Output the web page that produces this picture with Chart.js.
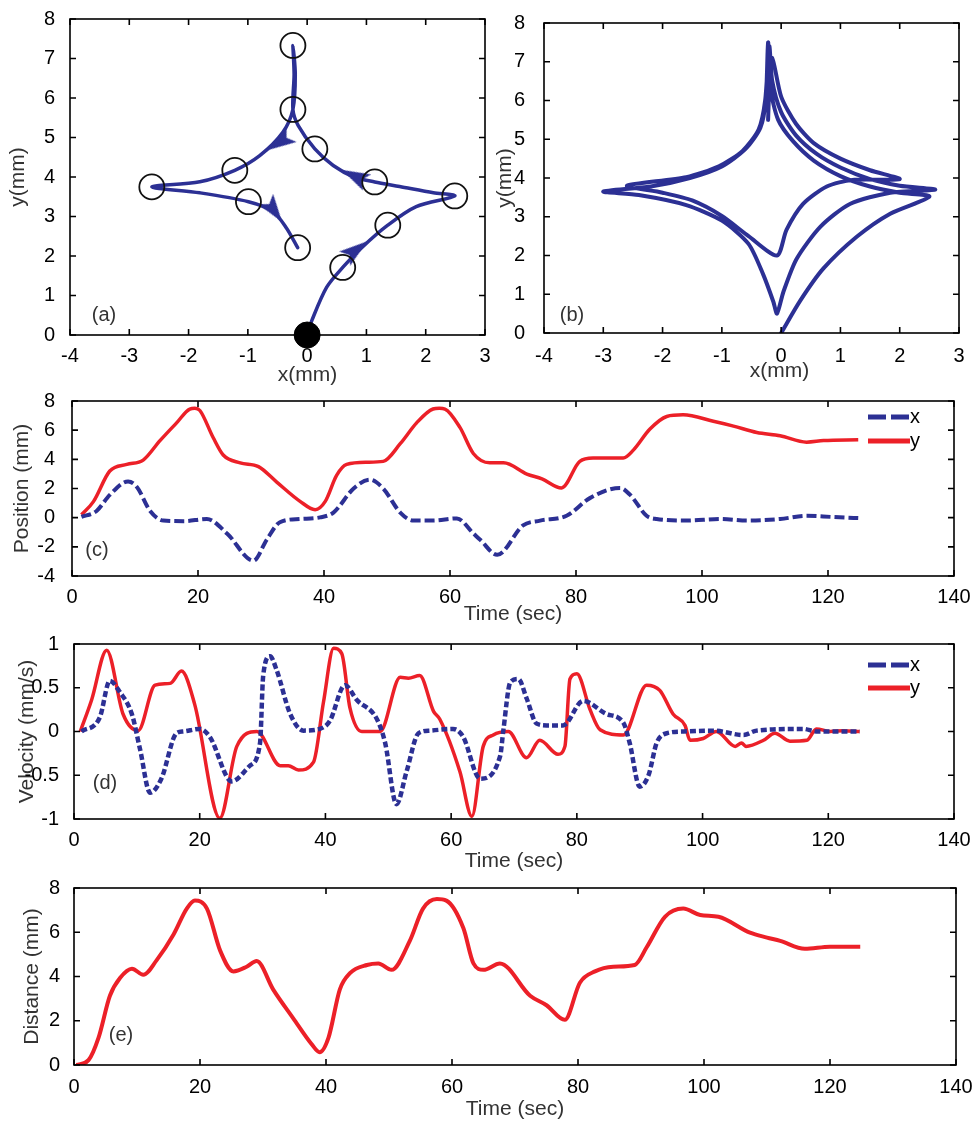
<!DOCTYPE html>
<html>
<head>
<meta charset="utf-8">
<title>Trajectory, position, velocity and distance</title>
<script src="https://cdn.jsdelivr.net/npm/chart.js@4.4.1/dist/chart.umd.min.js"></script>
<style>
    html, body { margin: 0; padding: 0; background: #fff; }
    #fig { position: relative; width: 977px; height: 1121px; overflow: hidden; }
    #fig canvas { position: absolute; }
</style>
</head>
<body>
<div id="fig">
    <canvas id="chartA"></canvas>
    <canvas id="chartB"></canvas>
    <canvas id="chartC"></canvas>
    <canvas id="chartD"></canvas>
    <canvas id="chartE"></canvas>
</div>
<script>
// Tick labels
const mmTicksX = [-4, -3, -2, -1, 0, 1, 2, 3];
const mmTicksY = [0, 1, 2, 3, 4, 5, 6, 7, 8];
const timeTicks = [0, 20, 40, 60, 80, 100, 120, 140];
const posTicks = [-4, -2, 0, 2, 4, 6, 8];
const velTicks = [-1, -0.5, 0, 0.5, 1];
const distTicks = [0, 2, 4, 6, 8];

// (a) schematic path (mm)
const pathAX = [0, 0.08, 0.33, 0.6, 0.92, 1.36, 1.84, 2.49, 2.13, 1.56, 1.14, 0.79, 0.44, 0.13, -0.15, -0.24, -0.22, -0.24, -0.2, -0.24, -0.41, -0.8, -1.22, -1.81, -2.62, -1.81, -0.99, -0.58, -0.35, -0.16];
const pathAY = [0, 0.37, 1.21, 1.71, 2.21, 2.78, 3.25, 3.52, 3.6, 3.76, 3.875, 4.0, 4.29, 4.71, 5.3, 5.71, 6.6, 7.33, 6.6, 5.71, 5.13, 4.54, 4.17, 3.88, 3.75, 3.6, 3.375, 3.13, 2.71, 2.21];
const circleAX = [0.6, 1.36, 2.49, 1.14, 0.13, -0.24, -0.24, -1.22, -2.62, -0.99, -0.16];
const circleAY = [1.71, 2.78, 3.52, 3.875, 4.71, 5.71, 7.33, 4.17, 3.75, 3.375, 2.21];
const startAX = [0];
const startAY = [0];
const arrowAX = [0.82, 0.8, -0.46, -0.56];
const arrowAY = [2.15, 4.02, 4.88, 3.15];
const arrowAimX = [1.36, 0.44, -0.8, -0.35];
const arrowAimY = [2.78, 4.29, 4.54, 2.71];

// (b) measured trajectory (mm)
const trajBX = [0, 0.32, 0.71, 1.28, 1.84, 2.5,
    2.0, 1.5, 1.0, 0.55, 0.2, -0.05, -0.18, -0.22,
    -0.26, -0.35, -0.6, -1.0, -1.54, -2.2, -3.0,
    -2.4, -1.6, -1.0, -0.55, -0.3, -0.13, -0.07,
    0.04, 0.26, 0.66, 1.16, 1.84, 2.6,
    2.0, 1.5, 1.0, 0.6, 0.25, 0.0, -0.15, -0.2,
    -0.27, -0.38, -0.65, -1.05, -1.6, -2.6,
    -2.0, -1.5, -1.0, -0.55, -0.07,
    0.09, 0.37, 0.77, 1.2, 2.0,
    1.5, 1.0, 0.55, 0.25, 0.0, -0.15,
    -0.2, -0.22];
const trajBY = [0, 0.83, 1.66, 2.49, 3.08, 3.52,
    3.62, 3.78, 4.05, 4.45, 4.95, 5.5, 6.3, 7.5,
    6.0, 5.3, 4.75, 4.3, 4.0, 3.78, 3.65,
    3.56, 3.3, 2.9, 2.3, 1.5, 0.8, 0.5,
    1.07, 1.91, 2.74, 3.33, 3.62, 3.7,
    3.8, 3.97, 4.27, 4.62, 5.1, 5.7, 6.5, 7.4,
    6.0, 5.25, 4.7, 4.3, 4.02, 3.8,
    3.62, 3.42, 3.02, 2.5, 2.0,
    2.66, 3.33, 3.78, 3.95, 3.97,
    4.2, 4.5, 4.9, 5.4, 6.1, 7.1,
    6.3, 5.5];

// (c) position vs time
const posXTime = [1.5, 3.9, 6.0, 8.9, 10.3, 12.4, 14.5, 17.7, 21.4, 24.6, 28.8, 30.9, 33.0, 36.2, 39.4, 41.5, 44.7, 47.3, 49.4, 52.1, 54.2, 57.3, 61.1, 63.7, 64.8, 67.5, 71.6, 74.3, 78.5, 82.2, 87.0, 88.6, 91.2, 92.8, 97.6, 102.9, 107.1, 112.4, 116.6, 120.6, 124.8];
const posXVal = [0.05, 0.46, 1.56, 2.48, 2.1, 0.46, -0.2, -0.24, -0.09, -1.08, -2.95, -1.52, -0.31, -0.09, 0.02, 0.35, 2.0, 2.6, 2.0, 0.35, -0.2, -0.2, -0.05, -1.08, -1.52, -2.55, -0.53, -0.2, 0.13, 1.34, 2.04, 1.56, 0.13, -0.09, -0.2, -0.09, -0.2, -0.09, 0.13, 0.05, -0.03];
const posYTime = [1.5, 3.4, 6.0, 8.7, 11.3, 14.0, 16.6, 18.7, 19.5, 20.3, 22.4, 24.0, 26.7, 29.6, 32.5, 36.2, 38.6, 40.2, 42.0, 43.6, 46.8, 49.4, 52.1, 54.7, 57.3, 58.3, 59.2, 61.6, 63.7, 66.3, 68.5, 72.2, 74.6, 77.7, 80.6, 82.7, 87.5, 89.1, 91.7, 94.4, 97.0, 101.8, 105.0, 108.7, 112.4, 116.6, 119.3, 124.8];
const posYVal = [0.2, 1.1, 3.2, 3.65, 3.95, 5.3, 6.5, 7.45, 7.5, 7.35, 5.5, 4.3, 3.76, 3.5, 2.44, 1.12, 0.55, 1.12, 2.9, 3.65, 3.8, 3.86, 5.07, 6.5, 7.45, 7.5, 7.45, 6.17, 4.4, 3.76, 3.76, 2.99, 2.66, 2.04, 3.86, 4.09, 4.09, 4.63, 6.06, 6.94, 7.05, 6.61, 6.28, 5.84, 5.62, 5.18, 5.29, 5.34];

// (d) velocity vs time
const velXTime = [1.2, 4.1, 5.7, 7.3, 9.2, 10.5, 12.1, 13.9, 16.3, 17.4, 20.0, 21.6, 25.1, 28.0, 29.6, 30.1, 31.2, 32.2, 34.4, 36.5, 39.1, 40.7, 43.1, 45.0, 48.2, 49.5, 51.3, 52.9, 54.8, 56.6, 60.3, 61.9, 64.6, 67.8, 68.3, 69.4, 70.7, 72.0, 73.6, 75.2, 77.8, 81.0, 84.7, 87.4, 88.4, 90.0, 91.4, 92.7, 94.3, 97.0, 101.7, 106.5, 108.6, 116.0, 118.1, 125];
const velXVal = [0, 0.16, 0.58, 0.45, 0.2, -0.2, -0.7, -0.54, -0.02, 0, 0.03, -0.06, -0.57, -0.39, -0.13, 0.64, 0.86, 0.71, 0.2, 0.01, 0.03, 0.12, 0.53, 0.36, 0.14, -0.13, -0.83, -0.46, -0.02, 0.01, 0.03, -0.06, -0.54, -0.28, 0.01, 0.56, 0.6, 0.38, 0.09, 0.07, 0.07, 0.35, 0.2, 0.1, -0.13, -0.63, -0.5, -0.13, -0.02, 0, 0.01, -0.04, 0.01, 0.03, 0, 0];
const velYTime = [1, 2.8, 5.2, 7.8, 10.2, 12.9, 15.3, 17.1, 19.2, 23.2, 25.9, 29.1, 32.8, 34.1, 35.7, 38.1, 39.7, 41.3, 42.6, 43.9, 45.8, 48.7, 51.9, 53.2, 55.0, 57.2, 58.2, 61.4, 63.3, 65.1, 66.7, 69.1, 72.0, 74.1, 77.0, 78.1, 78.9, 80.0, 82.1, 83.7, 87.4, 91.1, 93.2, 95.3, 97.2, 98.0, 100.1, 102.2, 105.2, 106.2, 106.9, 109.7, 111.5, 113.9, 116.6, 118.1, 120.3, 122.4, 125];
const velYVal = [0, 0.36, 0.93, 0.2, 0.01, 0.53, 0.55, 0.69, 0.31, -0.99, -0.17, 0, -0.39, -0.39, -0.44, -0.35, 0.34, 0.95, 0.89, 0.27, 0, 0, 0.62, 0.61, 0.64, 0.23, 0.14, -0.46, -0.97, -0.17, -0.04, 0, -0.3, -0.1, -0.26, -0.17, 0.6, 0.66, 0.25, 0.02, -0.04, 0.53, 0.47, 0.2, 0.07, -0.1, -0.08, 0, -0.17, -0.13, -0.17, -0.1, -0.02, -0.11, -0.1, 0.03, 0, 0.01, 0];

// (e) distance vs time
const distTime = [0.4, 2.3, 3.9, 5.7, 7.3, 9.2, 11.0, 13.1, 15.8, 17.9, 19.2, 21.1, 23.2, 25.3, 27.4, 29.0, 31.6, 34.8, 37.7, 39.0, 40.4, 42.2, 43.8, 46.5, 48.3, 50.4, 53.3, 55.4, 57.6, 59.1, 61.8, 63.4, 65.0, 67.6, 72.4, 75.0, 77.9, 80.3, 82.7, 85.6, 89.0, 90.9, 93.8, 96.7, 99.4, 102.3, 107.3, 110.0, 112.1, 116.0, 120.0, 124.8];
const distVal = [0, 0.22, 1.24, 3.13, 3.93, 4.35, 4.08, 4.73, 5.9, 7.07, 7.43, 7.07, 5.17, 4.23, 4.44, 4.7, 3.42, 2.11, 0.95, 0.58, 1.24, 3.42, 4.15, 4.52, 4.59, 4.3, 5.61, 7.07, 7.5, 7.43, 6.19, 4.59, 4.3, 4.59, 3.13, 2.7, 2.04, 3.72, 4.23, 4.44, 4.52, 5.32, 6.7, 7.07, 6.78, 6.7, 5.98, 5.76, 5.61, 5.25, 5.35, 5.35];

const FONT = '"Liberation Sans", Arial, sans-serif';
const RED = "rgb(236, 32, 40)";
const BLUE = "rgb(44, 48, 148)";

Chart.defaults.font.family = FONT;
Chart.defaults.font.size = 20;
Chart.defaults.color = "#000";

const points = (xs, ys) => xs.map((x, i) => ({ x: x, y: ys[i] }));

// Blue dart used as arrow head in (a), pointing up before rotation
function makeArrowHead() {
    const c = document.createElement("canvas");
    c.width = 18;
    c.height = 28;
    const g = c.getContext("2d");
    g.fillStyle = BLUE;
    g.beginPath();
    g.moveTo(9, 0);
    g.lineTo(18, 28);
    g.lineTo(9, 22);
    g.lineTo(0, 28);
    g.closePath();
    g.fill();
    return c;
}

// Box frame with inward ticks, x title, panel tag and line legend
const framePlugin = {
    id: "frame",
    afterDatasetsDraw(chart, args, opts) {
        const { ctx, chartArea: a, scales } = chart;
        ctx.save();
        ctx.strokeStyle = "#000";
        ctx.lineWidth = 1.6;
        ctx.beginPath();
        scales.x.ticks.forEach(t => {
            const px = scales.x.getPixelForValue(t.value);
            ctx.moveTo(px, a.bottom);
            ctx.lineTo(px, a.bottom - 6);
            ctx.moveTo(px, a.top);
            ctx.lineTo(px, a.top + 6);
        });
        scales.y.ticks.forEach(t => {
            const py = scales.y.getPixelForValue(t.value);
            ctx.moveTo(a.left, py);
            ctx.lineTo(a.left + 6, py);
            ctx.moveTo(a.right, py);
            ctx.lineTo(a.right - 6, py);
        });
        ctx.stroke();
        ctx.strokeRect(a.left, a.top, a.width, a.height);

        ctx.textAlign = "center";
        ctx.textBaseline = "middle";
        ctx.font = `21px ${FONT}`;
        ctx.fillStyle = "#333";
        ctx.fillText(opts.xTitle, (a.left + a.right) / 2 + opts.xTitleDx, a.bottom + opts.xTitleDy);

        ctx.font = `20px ${FONT}`;
        ctx.fillStyle = "#333";
        ctx.fillText(opts.tag, a.left + opts.tagDx, a.bottom - opts.tagDy);

        if (opts.legendRows) {
            chart.data.datasets.forEach((ds, i) => {
                const y = a.top + opts.legendRows[i];
                ctx.setLineDash(ds.legendDash || []);
                ctx.strokeStyle = ds.borderColor;
                ctx.lineWidth = 5;
                ctx.beginPath();
                ctx.moveTo(a.right - 86, y);
                ctx.lineTo(a.right - 44, y);
                ctx.stroke();
                ctx.setLineDash([]);
                ctx.font = `20px ${FONT}`;
                ctx.fillStyle = "#000";
                ctx.textAlign = "left";
                ctx.fillText(ds.label, a.right - 44, y);
            });
        }
        ctx.restore();
    }
};

function axisOptions(ticks, title, fitSize, tickPad, titlePad, isX) {
    return {
        type: "linear",
        min: ticks[0],
        max: ticks[ticks.length - 1],
        afterBuildTicks: s => { s.ticks = ticks.map(v => ({ value: v })); },
        afterFit: s => { if (isX) s.height = fitSize; else s.width = fitSize; },
        grid: { display: false },
        border: { display: false },
        ticks: {
            padding: tickPad, color: "#000", font: { size: 20 },
            maxRotation: 0, autoSkip: false,
            callback: v => String(v)
        },
        title: {
            display: !isX,
            text: title,
            color: "#333",
            font: { size: 21 },
            padding: { top: titlePad, bottom: 0 }
        }
    };
}

// box = canvas rectangle, area = plot rectangle, both in page pixels
function buildPanel(id, box, area, p) {
    const canvas = document.getElementById(id);
    canvas.width = box.r - box.l;
    canvas.height = box.b - box.t;
    canvas.style.left = box.l + "px";
    canvas.style.top = box.t + "px";
    p.frame.xTitle = p.xTitle;
    return new Chart(canvas, {
        type: "scatter",
        data: { datasets: p.datasets },
        options: {
            responsive: false,
            animation: false,
            events: [],
            layout: { padding: { left: 0, bottom: 0, top: area.t - box.t, right: box.r - area.r } },
            plugins: { legend: { display: false }, tooltip: { enabled: false }, frame: p.frame },
            scales: {
                x: axisOptions(p.xTicks, p.xTitle, box.b - area.b, p.xTickPad, 0, true),
                y: axisOptions(p.yTicks, p.yTitle, area.l - box.l, p.yTickPad, p.yTitlePad, false)
            }
        },
        plugins: [framePlugin]
    });
}

function timeLine(label, xs, ys, color, width, dash, legendDash) {
    return {
        label: label,
        data: points(xs, ys),
        showLine: true,
        borderColor: color,
        borderWidth: width,
        borderDash: dash,
        legendDash: legendDash,
        cubicInterpolationMode: "monotone",
        pointRadius: 0
    };
}

const arrowHead = makeArrowHead();

// (a)
buildPanel("chartA", { l: 0, t: 0, r: 500, b: 395 }, { l: 70, t: 15, r: 485, b: 335 }, {
    xTicks: mmTicksX, yTicks: mmTicksY, xTitle: "x(mm)", yTitle: "y(mm)",
    xTickPad: 1, yTickPad: 7, yTitlePad: 6,
    frame: { tag: "(a)", tagDx: 34, tagDy: 20, xTitleDx: 30, xTitleDy: 40 },
    datasets: [
        { data: points(startAX, startAY), pointRadius: 13, pointBackgroundColor: "#000", pointBorderColor: "#000", clip: false },
        { data: points(circleAX, circleAY), pointRadius: 12.5, pointBackgroundColor: "rgba(0,0,0,0)", pointBorderColor: "#111", pointBorderWidth: 1.8 },
        {
            data: points(arrowAX, arrowAY),
            pointStyle: arrowHead,
            pointRadius: 10,
            pointRotation: c => {
                const i = c.dataIndex;
                if (i === undefined) return 0;
                const sx = c.chart.scales.x, sy = c.chart.scales.y;
                const dx = sx.getPixelForValue(arrowAimX[i]) - sx.getPixelForValue(arrowAX[i]);
                const dy = sy.getPixelForValue(arrowAimY[i]) - sy.getPixelForValue(arrowAY[i]);
                return Math.atan2(dx, -dy) * 180 / Math.PI;
            }
        },
        {
            data: points(pathAX, pathAY), showLine: true, borderColor: BLUE, borderWidth: 3.5,
            tension: 0.3, borderJoinStyle: "round", borderCapStyle: "round", pointRadius: 0
        }
    ]
});

// (b)
buildPanel("chartB", { l: 490, t: 0, r: 977, b: 395 }, { l: 544, t: 13, r: 959, b: 333 }, {
    xTicks: mmTicksX, yTicks: mmTicksY, xTitle: "x(mm)", yTitle: "y(mm)",
    xTickPad: 3, yTickPad: 11, yTitlePad: 2.4,
    frame: { tag: "(b)", tagDx: 28, tagDy: 18, xTitleDx: 28, xTitleDy: 38.5 },
    datasets: [{
        data: points(trajBX, trajBY), showLine: true, borderColor: BLUE, borderWidth: 4,
        tension: 0.25, borderJoinStyle: "round", borderCapStyle: "round", pointRadius: 0
    }]
});

// (c)
buildPanel("chartC", { l: 0, t: 380, r: 977, b: 630 }, { l: 72, t: 394, r: 954, b: 576 }, {
    xTicks: timeTicks, yTicks: posTicks, xTitle: "Time (sec)", yTitle: "Position (mm)",
    xTickPad: 1, yTickPad: 9, yTitlePad: 9.4,
    frame: { tag: "(c)", tagDx: 25, tagDy: 26, legendRows: [16, 40], xTitleDx: 0, xTitleDy: 38 },
    datasets: [
        timeLine("x", posXTime, posXVal, BLUE, 4, [10, 4], [18, 5]),
        timeLine("y", posYTime, posYVal, RED, 3.5, [], [])
    ]
});

// (d)
buildPanel("chartD", { l: 0, t: 625, r: 977, b: 875 }, { l: 74, t: 637, r: 954, b: 819 }, {
    xTicks: timeTicks, yTicks: velTicks, xTitle: "Time (sec)", yTitle: "Velocity (mm/s)",
    xTickPad: 1, yTickPad: 7, yTitlePad: 15,
    frame: { tag: "(d)", tagDx: 31, tagDy: 36, legendRows: [21, 44], xTitleDx: 0, xTitleDy: 42 },
    datasets: [
        timeLine("x", velXTime, velXVal, BLUE, 4.5, [6, 3], [18, 5]),
        timeLine("y", velYTime, velYVal, RED, 3.5, [], [])
    ]
});

// (e)
buildPanel("chartE", { l: 0, t: 870, r: 977, b: 1121 }, { l: 74, t: 882, r: 956, b: 1065 }, {
    xTicks: timeTicks, yTicks: distTicks, xTitle: "Time (sec)", yTitle: "Distance (mm)",
    xTickPad: 2, yTickPad: 6, yTitlePad: 20,
    frame: { tag: "(e)", tagDx: 47, tagDy: 30, xTitleDx: 0, xTitleDy: 44 },
    datasets: [timeLine("distance", distTime, distVal, RED, 4, [], [])]
});
</script>
</body>
</html>
